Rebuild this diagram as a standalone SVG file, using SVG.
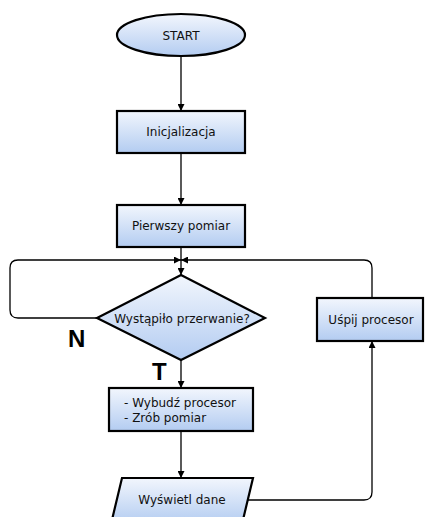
<svg xmlns="http://www.w3.org/2000/svg" width="425" height="517" viewBox="0 0 425 517">
<defs>
<linearGradient id="g" x1="0" y1="0" x2="0" y2="1">
<stop offset="0" stop-color="#f2f6fd"/>
<stop offset="1" stop-color="#b3ccf1"/>
</linearGradient>
<marker id="a" viewBox="0 0 10 10" refX="10" refY="5" markerWidth="7" markerHeight="7" orient="auto" markerUnits="userSpaceOnUse">
<path d="M0,0 L10,5 L0,10 z" fill="#000"/>
</marker>
<style>
.s{fill:url(#g);stroke:#000;stroke-width:2.2}
.t{font-family:"DejaVu Sans",Verdana,sans-serif;font-size:12px;fill:#111}
.c{fill:none;stroke:#000;stroke-width:1.3;marker-end:url(#a)}
.n{fill:none;stroke:#000;stroke-width:1.3}
.b{font-family:"Liberation Sans",Arial,sans-serif;font-weight:bold;font-size:24px;fill:#000}
</style>
</defs>
<rect width="425" height="517" fill="#fff"/>
<g id="connectors">
<path class="c" d="M181,57 V111"/>
<path class="c" d="M181,153 V205"/>
<path class="c" d="M181,247 V275"/>
<path class="c" d="M97,318 H18 Q10,318 10,310 V268 Q10,260 18,260 H181"/>
<path class="c" d="M372,298 V268 Q372,260 364,260 H181"/>
<path class="c" d="M181,360 V388"/>
<path class="c" d="M181,431 V478"/>
<path class="c" d="M248,500 H364 Q372,500 372,492 V341"/>
</g>
<g id="start">
<ellipse class="s" cx="181" cy="35" rx="64" ry="21"/>
<text class="t" x="181" y="39.5" text-anchor="middle">START</text>
</g>
<g id="inicjalizacja">
<rect class="s" x="117" y="111" width="128" height="42"/>
<text class="t" x="181" y="136" text-anchor="middle">Inicjalizacja</text>
</g>
<g id="pierwszy">
<rect class="s" x="117" y="205" width="128" height="42"/>
<text class="t" x="181" y="230" text-anchor="middle">Pierwszy pomiar</text>
</g>
<g id="decyzja">
<polygon class="s" points="181,275 265,318 181,360 97,318"/>
<text class="t" x="182" y="322.5" text-anchor="middle">Wystąpiło przerwanie?</text>
</g>
<g id="uspij">
<rect class="s" x="317" y="298" width="106" height="43"/>
<text class="t" x="371" y="324" text-anchor="middle">Uśpij procesor</text>
</g>
<g id="wybudz">
<rect class="s" x="109" y="388" width="144" height="43"/>
<text class="t" x="124" y="407">- Wybudź procesor</text>
<text class="t" x="124" y="422">- Zrób pomiar</text>
</g>
<g id="wyswietl">
<polygon class="s" points="122,478 253,478 242,524 111,524"/>
<text class="t" x="182" y="504" text-anchor="middle">Wyświetl dane</text>
</g>
<g id="labels">
<text class="b" x="68" y="347">N</text>
<text class="b" x="152" y="380">T</text>
</g>
</svg>
